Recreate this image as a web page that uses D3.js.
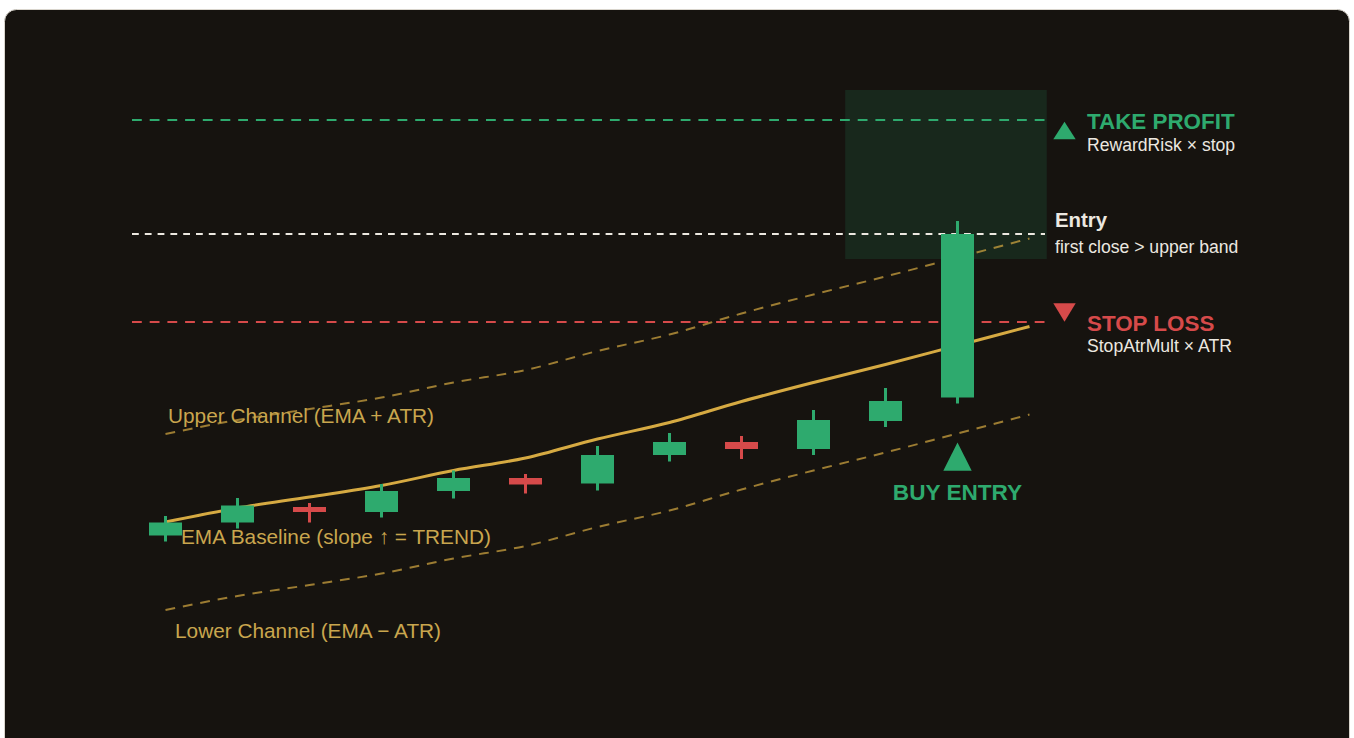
<!DOCTYPE html>
<html>
<head>
<meta charset="utf-8">
<script src="https://cdn.jsdelivr.net/npm/d3@7"></script>
<style>
  body { margin: 0; background: #ffffff; }
  svg { display: block; font-family: "Liberation Sans", Arial, sans-serif; }
</style>
</head>
<body>
<div id="chart"></div>
<script>
/**
 * DATA (price units)
 * */
const candleOpen  = [32.9, 35.5, 38.6, 37.6, 41.8, 44.4, 43.3, 49.0, 51.6, 50.2, 55.8, 60.5];
const candleClose = [35.5, 38.9, 37.6, 41.8, 44.4, 43.1, 49.0, 51.6, 50.2, 56.0, 59.8, 93.2];
const candleHigh  = [36.8, 40.4, 39.4, 43.2, 45.9, 45.2, 50.8, 53.4, 52.8, 58.0, 62.4, 95.8];
const candleLow   = [31.7, 34.3, 35.5, 36.5, 40.3, 41.3, 41.9, 47.7, 48.2, 49.0, 54.6, 59.3];

// baseline and channel, one point per bar plus one more at the right
const emaValues = [35.6, 38.4, 40.6, 42.9, 45.9, 48.4, 52.2, 55.5, 59.7, 63.5, 67.1, 70.9, 74.7];
const upperBand = [53.2, 56.0, 58.2, 60.5, 63.5, 66.0, 69.8, 73.1, 77.3, 81.1, 84.7, 88.5, 92.3];
const lowerBand = [18.0, 20.8, 23.0, 25.3, 28.3, 30.8, 34.6, 37.9, 42.1, 45.9, 49.5, 53.3, 57.1];

// trade levels
const takeProfit = 116;
const entryPrice = 93.2;
const stopLoss = 75.6;
const zoneTop = 122, zoneBottom = 88.2;   // shaded target zone
const zoneFrom = 9.44, zoneTo = 12.24;    // bar index range of the zone
const entryBar = 11;

/**
 * CONSTANTS
 * */
const width = 1354, height = 738;
const gold = "#d6aa42", goldText = "#c9a64e";
const green = "#2eaa6e", red = "#d64a4a", light = "#ece8e0";
const lineX0 = 132, lineX1 = 1045;

const x = d3.scaleLinear().domain([0, 12]).range([165.5, 1029.5]);
const y = d3.scaleLinear().domain([0, 120]).range([700, 100]);

const svg = d3.select("#chart")
  .append("svg")
  .attr("width", width)
  .attr("height", height);

// panel
svg.append("rect")
  .attr("x", 4.5).attr("y", 9.5)
  .attr("width", 1345).attr("height", 780)
  .attr("rx", 12)
  .attr("fill", "#16130f")
  .attr("stroke", "#d9d5cd");

// target zone
svg.append("rect")
  .attr("x", x(zoneFrom))
  .attr("y", y(zoneTop))
  .attr("width", x(zoneTo) - x(zoneFrom))
  .attr("height", y(zoneBottom) - y(zoneTop))
  .attr("fill", green)
  .attr("fill-opacity", 0.14);

// horizontal levels
const levels = [
  { v: takeProfit, color: green, dash: "9.8 7.9" },
  { v: entryPrice, color: light, dash: "6.8 6" },
  { v: stopLoss, color: red, dash: "9.8 7.9" },
];
svg.selectAll("line.level")
  .data(levels)
  .join("line")
  .attr("class", "level")
  .attr("x1", lineX0).attr("x2", lineX1)
  .attr("y1", d => y(d.v)).attr("y2", d => y(d.v))
  .attr("stroke", d => d.color)
  .attr("stroke-width", 2)
  .attr("stroke-dasharray", d => d.dash);

// channel + baseline
const line = d3.line()
  .x((d, i) => x(i))
  .y(d => y(d))
  .curve(d3.curveMonotoneX);

[upperBand, lowerBand].forEach(band => {
  svg.append("path")
    .attr("d", line(band))
    .attr("fill", "none")
    .attr("stroke", gold)
    .attr("stroke-opacity", 0.7)
    .attr("stroke-width", 2)
    .attr("stroke-dasharray", "9.8 7.9");
});

svg.append("path")
  .attr("d", line(emaValues))
  .attr("fill", "none")
  .attr("stroke", gold)
  .attr("stroke-width", 3);

// channel labels
const labels = [
  { text: "Upper Channel (EMA + ATR)", x: 168, y: 423 },
  { text: "EMA Baseline (slope \u2191 = TREND)", x: 181, y: 544 },
  { text: "Lower Channel (EMA \u2212 ATR)", x: 175, y: 638 },
];
svg.selectAll("text.label")
  .data(labels)
  .join("text")
  .attr("class", "label")
  .attr("x", d => d.x).attr("y", d => d.y)
  .attr("fill", goldText)
  .attr("font-size", 20.8)
  .text(d => d.text);

// candles
const candles = candleOpen.map((o, i) => ({
  i, o, c: candleClose[i], h: candleHigh[i], l: candleLow[i]
}));
const bodyW = 33;

const cg = svg.selectAll("g.candle")
  .data(candles)
  .join("g")
  .attr("class", "candle")
  .attr("fill", d => d.c >= d.o ? green : red);

cg.append("rect")
  .attr("x", d => x(d.i) - 1.5)
  .attr("y", d => y(d.h))
  .attr("width", 3)
  .attr("height", d => y(d.l) - y(d.h));

cg.append("rect")
  .attr("x", d => x(d.i) - bodyW / 2)
  .attr("y", d => y(Math.max(d.o, d.c)))
  .attr("width", bodyW)
  .attr("height", d => Math.max(1, Math.abs(y(d.o) - y(d.c))));

// triangles
function tri(cx, top, w, h, up) {
  const b = top + h;
  return up
    ? `M${cx},${top}L${cx + w / 2},${b}L${cx - w / 2},${b}Z`
    : `M${cx - w / 2},${top}L${cx + w / 2},${top}L${cx},${b}Z`;
}

// buy entry marker under the breakout bar
const buyX = x(entryBar);
const buyTop = y(candleLow[entryBar]) + 39;
svg.append("path")
  .attr("d", tri(buyX, buyTop, 28.4, 28.3, true))
  .attr("fill", green);
svg.append("text")
  .attr("x", buyX).attr("y", buyTop + 57)
  .attr("text-anchor", "middle")
  .attr("fill", green)
  .attr("font-size", 22.6)
  .attr("font-weight", "bold")
  .text("BUY ENTRY");

// right side annotations
const tpY = y(takeProfit), enY = y(entryPrice), slY = y(stopLoss);

svg.append("path").attr("d", tri(1064.5, tpY + 1.7, 22.4, 17.6, true)).attr("fill", green);
svg.append("path").attr("d", tri(1064.5, slY - 18.7, 22.4, 18.4, false)).attr("fill", red);

const notes = [
  { text: "TAKE PROFIT", x: 1087, y: tpY + 9, size: 22.4, bold: true, color: green },
  { text: "RewardRisk \u00d7 stop", x: 1087, y: tpY + 31, size: 17.6, bold: false, color: light },
  { text: "Entry", x: 1055, y: enY - 7.3, size: 20.4, bold: true, color: light },
  { text: "first close > upper band", x: 1055, y: enY + 19.3, size: 17.6, bold: false, color: light },
  { text: "STOP LOSS", x: 1087, y: slY + 8.7, size: 22.4, bold: true, color: red },
  { text: "StopAtrMult \u00d7 ATR", x: 1087, y: slY + 30.3, size: 17.6, bold: false, color: light },
];
svg.selectAll("text.note")
  .data(notes)
  .join("text")
  .attr("class", "note")
  .attr("x", d => d.x).attr("y", d => d.y)
  .attr("fill", d => d.color)
  .attr("font-size", d => d.size)
  .attr("font-weight", d => d.bold ? "bold" : "normal")
  .text(d => d.text);
</script>
</body>
</html>
